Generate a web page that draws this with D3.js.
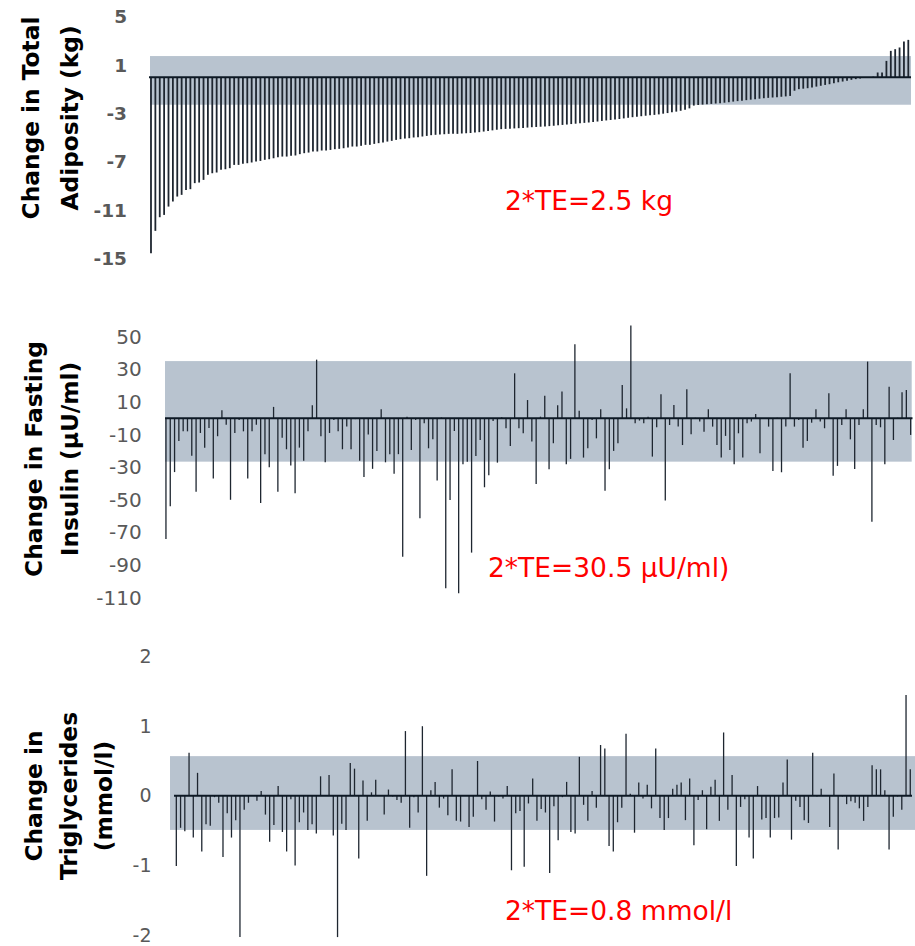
<!DOCTYPE html>
<html>
<head>
<meta charset="utf-8">
<script src="https://cdn.jsdelivr.net/npm/d3@7"></script>
<style>
  body { margin: 0; background: #ffffff; }
  svg { display: block; }
</style>
</head>
<body>
<svg id="chart" width="915" height="946"></svg>
<script>
// Participants (one thin bar each, same order in every panel except the sorted top one)
const participants = d3.range(1, 175);

// Change in total adiposity (kg), sorted ascending
const adiposityChange = [
  -14.57, -12.72, -11.59, -11.40, -10.71, -10.29, -9.88, -9.74, -9.33, -9.27,
  -8.77, -8.72, -8.50, -8.08, -7.95, -7.89, -7.67, -7.62, -7.53, -7.26,
  -7.26, -7.17, -7.12, -7.06, -6.98, -6.93, -6.84, -6.79, -6.71, -6.62,
  -6.57, -6.57, -6.51, -6.48, -6.37, -6.29, -6.24, -6.15, -6.15, -6.07,
  -6.07, -6.02, -5.96, -5.93, -5.88, -5.82, -5.74, -5.74, -5.68, -5.60,
  -5.60, -5.52, -5.46, -5.41, -5.33, -5.27, -5.19, -5.13, -5.08, -5.05,
  -4.99, -4.97, -4.91, -4.86, -4.80, -4.77, -4.75, -4.72, -4.69, -4.69,
  -4.69, -4.66, -4.64, -4.62, -4.58, -4.55, -4.50, -4.46, -4.40, -4.35,
  -4.30, -4.28, -4.26, -4.24, -4.22, -4.20, -4.17, -4.14, -4.12, -4.10,
  -4.08, -4.05, -4.02, -3.98, -3.95, -3.92, -3.88, -3.85, -3.81, -3.78,
  -3.75, -3.71, -3.67, -3.62, -3.58, -3.54, -3.50, -3.46, -3.41, -3.36,
  -3.31, -3.27, -3.23, -3.19, -3.15, -3.12, -3.08, -3.02, -2.97, -2.91,
  -2.85, -2.78, -2.70, -2.58, -2.35, -2.30, -2.27, -2.24, -2.21, -2.18,
  -2.15, -2.11, -2.07, -2.02, -1.98, -1.94, -1.90, -1.86, -1.82, -1.78,
  -1.74, -1.71, -1.68, -1.65, -1.62, -1.59, -1.55, -1.12, -0.99, -0.95,
  -0.91, -0.85, -0.78, -0.71, -0.64, -0.58, -0.50, -0.42, -0.36, -0.29,
  -0.22, -0.16, -0.11, -0.05, -0.03, 0.05, 0.39, 0.39, 1.35, 2.18,
  2.32, 2.46, 2.95, 3.09
];

// Change in fasting insulin (µU/ml)
const insulinChange = [
  -74, -54, -33, -14, -8, -8, -23, -45, -9, -18,
  -6, -37, -11, 5, -4, -50, -9, -1, -8, -37,
  -8, -4, -52, -22, -30, 7, -45, -12, -19, -29,
  -46, -18, -26, -8, 8, 36, -11, -27, -9, -1,
  -8, -19, -5, -19, -0.5, -26, -36, -10, -31, -20,
  5.5, -27, -22, -34, -22, -85, 1, -19.4, -1, -61.3,
  -3, -18.4, -12.9, -38.2, 0.5, -104.3, -50.1, -7.8, -107.4, -28.2,
  -26.6, -82.4, -23.1, -13.3, -42.3, -35, -1.6, -27.2, 0.6, -6.1,
  -17, 27.6, -6.1, -9.2, 11.2, -14.3, -40.3, 1, 13.9, -31.3,
  -15.3, 8, 16.4, -28.2, -24.9, 45.4, 4.7, -24.1, -18.4, -1,
  -12.3, 5.5, -44.4, -31.3, -20, -15.3, 20.4, 6.1, 56.9, -3,
  -1.4, -3, 1, -23.5, -5.5, 14.7, -50.5, -4.1, 8.2, -5.1,
  -16.4, 17.8, -9.8, 0.3, -2, -8.2, 5.5, -5.1, -16.4, -24.1,
  -10.8, -19.4, -28.2, -9.2, -24.1, -3, -2, 2.7, -21.5, -0.3,
  -5.1, -32.3, 0.3, -33.1, -5.1, 27.6, -5.1, -1, -18, -13.9,
  -2.7, 5.5, -2, -6.1, 15.3, -35.2, -29.2, -4.1, 5.5, -12.9,
  -31.1, -4.1, 5.5, 34.8, -63.4, -4.1, -5.5, -28.2, 19.4, -13.3,
  0.3, 16, 17.4, -10.2
];

// Change in triglycerides (mmol/l)
const triglycerideChange = [
  -1.01, -0.46, -0.51, 0.62, -0.6, 0.33, -0.8, -0.41, -0.43, -0.02,
  -0.1, -0.88, -0.25, -0.6, -0.35, -2.03, -0.2, -0.1, 0.01, -0.07,
  0.07, -0.27, -0.66, -0.42, 0.14, -0.52, -0.8, -0.05, -1.0, -0.38,
  -0.24, -0.49, -0.41, -0.54, 0.28, 0, 0.3, -0.57, -2.03, -0.4,
  -0.49, 0.47, 0.39, -0.9, 0.22, -0.36, 0.05, 0.23, 0.01, -0.27,
  0.09, -0.01, -0.06, -0.1, 0.93, -0.46, -0.02, -0.24, 1.0, -1.15,
  0.08, 0.2, -0.17, -0.04, -0.28, 0.38, -0.36, -0.37, 0.01, -0.45,
  -0.3, 0.5, -0.05, -0.2, 0.06, -0.37, -0.01, -0.04, 0.14, -1.07,
  -0.25, -0.22, -1.02, -0.11, 0.25, -0.36, -0.19, -0.24, -1.11, -0.15,
  -0.64, -0.02, 0.2, -0.52, -0.54, 0.56, -0.13, -0.36, 0.07, -0.17,
  0.73, 0.68, -0.72, -0.8, -0.38, -0.17, 0.89, 0.03, -0.53, 0.19,
  -0.04, 0.16, -0.18, 0.68, -0.32, -0.49, -0.32, 0.1, 0.16, 0.19,
  -0.35, 0.25, -0.71, -0.06, 0.08, -0.48, 0.13, 0.23, -0.36, 0.91,
  -0.2, 0.3, -1.01, -0.16, -0.05, -0.6, -0.9, 0.14, -0.34, -0.32,
  -0.6, -0.32, -0.31, 0.19, 0.52, -0.63, -0.07, -0.16, -0.35, -0.39,
  0.62, -0.01, 0.1, 0.01, -0.45, 0.32, -0.77, -0.01, -0.12, -0.08,
  -0.1, -0.18, -0.36, -0.16, 0.44, 0.38, 0.38, 0.08, -0.77, -0.3,
  -0.01, -0.2, 1.45, 0.38
];

// Y-axis tick labels
const adiposityTicks = [5, 1, -3, -7, -11, -15];
const insulinTicks = [50, 30, 10, -10, -30, -50, -70, -90, -110];
const triglycerideTicks = [2, 1, 0, -1, -2];

// Shaded typical-error zones (value range)
const adiposityBand = [-2.28, 1.75];
const insulinBand = [-26.6, 35.1];
const triglycerideBand = [-0.49, 0.57];

// Axis titles and zone annotations
const adiposityTitle = ["Change in Total", "Adiposity (kg)"];
const insulinTitle = ["Change in Fasting", "Insulin (µU/ml)"];
const triglycerideTitle = ["Change in", "Triglycerides", "(mmol/l)"];
const adiposityNote = "2*TE=2.5 kg";
const insulinNote = "2*TE=30.5 µU/ml)";
const triglycerideNote = "2*TE=0.8 mmol/l";

const svg = d3.select("#chart");
const FONT = "'DejaVu Sans', Verdana, sans-serif";

const panels = [
  {
    values: adiposityChange, ticks: adiposityTicks, band: adiposityBand,
    title: adiposityTitle, note: adiposityNote,
    yDomain: [-15, 5], yRange: [258.4, 16.8],
    xRange: [148.8, 910.5], bandX: [150, 911], axisX: [149, 911],
    tickX: 127, tickSize: 18.5, tickWeight: "bold",
    titleY: 118, titleX: [38.7, 77.7],
    noteX: 505, noteY: 210, barWidth: 1.8
  },
  {
    values: insulinChange, ticks: insulinTicks, band: insulinBand,
    title: insulinTitle, note: insulinNote,
    yDomain: [-110, 50], yRange: [597.6, 336.8],
    xRange: [163.8, 912.8], bandX: [165, 911.7], axisX: [165, 912.5],
    tickX: 141.7, tickSize: 20, tickWeight: "normal",
    titleY: 459, titleX: [42, 78],
    noteX: 488, noteY: 577, barWidth: 1.3
  },
  {
    values: triglycerideChange, ticks: triglycerideTicks, band: triglycerideBand,
    title: triglycerideTitle, note: triglycerideNote,
    yDomain: [-2, 2], yRange: [935, 656.6],
    xRange: [174.2, 912.4], bandX: [170, 915], axisX: [174, 912],
    tickX: 151.5, tickSize: 19, tickWeight: "normal",
    titleY: 796, titleX: [42, 77, 111.5],
    noteX: 505, noteY: 920, barWidth: 1.3
  }
];

panels.forEach(p => {
  const g = svg.append("g");
  const x = d3.scaleBand().domain(participants).range(p.xRange);
  const y = d3.scaleLinear().domain(p.yDomain).range(p.yRange);

  // shaded zone
  g.append("rect")
    .attr("x", p.bandX[0])
    .attr("width", p.bandX[1] - p.bandX[0])
    .attr("y", y(p.band[1]))
    .attr("height", y(p.band[0]) - y(p.band[1]))
    .attr("fill", "#b8c3cf");

  // one bar per participant
  g.append("g").selectAll("line")
    .data(p.values)
    .join("line")
    .attr("x1", (d, i) => x(participants[i]) + x.bandwidth() / 2)
    .attr("x2", (d, i) => x(participants[i]) + x.bandwidth() / 2)
    .attr("y1", y(0))
    .attr("y2", d => y(d))
    .attr("stroke", "#1e2630")
    .attr("stroke-width", p.barWidth);

  // zero line
  g.append("line")
    .attr("x1", p.axisX[0]).attr("x2", p.axisX[1])
    .attr("y1", y(0)).attr("y2", y(0))
    .attr("stroke", "#0d1824")
    .attr("stroke-width", 2);

  // y axis labels only
  const axis = g.append("g")
    .attr("transform", `translate(${p.tickX},0)`)
    .call(d3.axisLeft(y).tickValues(p.ticks).tickSize(0).tickPadding(0).tickFormat(d3.format("d")));
  axis.select(".domain").remove();
  axis.selectAll("text")
    .attr("fill", "#595959")
    .attr("font-family", FONT)
    .attr("font-size", p.tickSize)
    .attr("font-weight", p.tickWeight)
    .text(d => d < 0 ? "-" + Math.abs(d) : String(d));

  // rotated y title
  p.title.forEach((line, k) => {
    g.append("text")
      .attr("transform", `translate(${p.titleX[k]},${p.titleY}) rotate(-90)`)
      .attr("text-anchor", "middle")
      .attr("font-family", FONT)
      .attr("font-weight", "bold")
      .attr("font-size", 23.3)
      .attr("fill", "#000000")
      .text(line);
  });

  // zone annotation
  g.append("text")
    .attr("x", p.noteX)
    .attr("y", p.noteY)
    .attr("font-family", FONT)
    .attr("font-size", 26.5)
    .attr("fill", "#ff0000")
    .text(p.note);
});
</script>
</body>
</html>
